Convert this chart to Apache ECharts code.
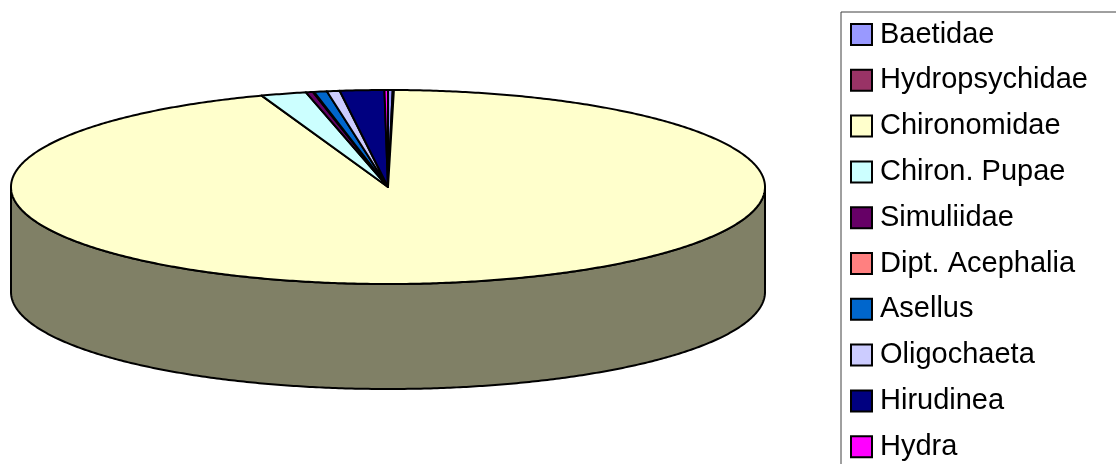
<!DOCTYPE html>
<html>
<head>
<meta charset="utf-8">
<script src="https://cdn.jsdelivr.net/npm/echarts@6/dist/echarts.min.js"></script>
<style>
  html, body { margin: 0; padding: 0; background: #fff; }
  #chart { width: 1116px; height: 464px; }
</style>
</head>
<body>
<div id="chart"></div>
<script>
// Taxa, in drawing order (clockwise from 12 o'clock)
const taxa = ['Baetidae', 'Hydropsychidae', 'Chironomidae', 'Chiron. Pupae', 'Simuliidae',
              'Dipt. Acephalia', 'Asellus', 'Oligochaeta', 'Hirudinea', 'Hydra'];
// Individuals counted per taxon
const counts = [4, 1, 1890, 39, 6, 1, 11, 11, 38, 3];
// Fill colour of each slice
const colors = ['#9999FF', '#993366', '#FFFFCC', '#CCFFFF', '#660066',
                '#FF8080', '#0066CC', '#CCCCFF', '#000080', '#FF00FF'];

// Tilted pie layout (pixels)
const PIE = { cx: 388, cy: 187, rx: 377, ry: 97, depth: 105 };

const total = counts.reduce((a, b) => a + b, 0);
const startAngles = [];
counts.reduce((acc, v, i) => { startAngles[i] = acc; return acc + v; }, 0);

function shade(hex, k) {
  const n = parseInt(hex.slice(1), 16);
  const r = Math.round(((n >> 16) & 255) * k);
  const g = Math.round(((n >> 8) & 255) * k);
  const b = Math.round((n & 255) * k);
  return 'rgb(' + r + ',' + g + ',' + b + ')';
}

// angle in degrees, clockwise from the top
function pt(deg, dy) {
  const t = deg * Math.PI / 180;
  return [PIE.cx + PIE.rx * Math.sin(t), PIE.cy - PIE.ry * Math.cos(t) + (dy || 0)];
}

function arc(a0, a1, dy) {
  const pts = [];
  const steps = Math.max(2, Math.ceil(Math.abs(a1 - a0) / 0.5));
  for (let s = 0; s <= steps; s++) pts.push(pt(a0 + (a1 - a0) * s / steps, dy));
  return pts;
}

function makeRender(idx) {
  return function (params, api) {
    const v = api.value(0);
    const a0 = startAngles[idx] / total * 360;
    const a1 = a0 + v / total * 360;
    const children = [];
    // visible rim: the front half, 90..270 degrees
    const s = Math.max(a0, 90), e = Math.min(a1, 270);
    if (e > s) {
      const top = arc(s, e, 0);
      const bottom = arc(e, s, PIE.depth);
      children.push({
        type: 'polygon',
        z2: 1,
        shape: { points: top.concat(bottom) },
        style: { fill: shade(colors[idx], 0.5), stroke: '#000', lineWidth: 2, lineJoin: 'round' }
      });
    }
    children.push({
      type: 'polygon',
      z2: 10,
      shape: { points: [pt(a0, 0)].concat(arc(a0, a1, 0)).concat([[PIE.cx, PIE.cy]]) },
      style: { fill: colors[idx], stroke: '#000', lineWidth: 2, lineJoin: 'round' }
    });
    return { type: 'group', children: children };
  };
}

const chart = echarts.init(document.getElementById('chart'), null, { renderer: 'canvas' });

chart.setOption({
  animation: false,
  backgroundColor: '#fff',
  legend: {
    orient: 'vertical',
    left: 841,
    top: 12,
    height: 520,
    padding: [8, 60, 40, 9],
    borderColor: '#404040',
    borderWidth: 1,
    itemWidth: 21,
    itemHeight: 21,
    itemGap: 16.8,
    icon: 'rect',
    itemStyle: { borderColor: '#000', borderWidth: 2 },
    textStyle: { fontFamily: 'Liberation Sans, Arial, sans-serif', fontSize: 29, color: '#000', padding: [0, 0, 0, 3] },
    data: taxa
  },
  series: taxa.map((name, i) => ({
    type: 'custom',
    name: name,
    coordinateSystem: 'none',
    itemStyle: { color: colors[i], borderColor: '#000', borderWidth: 1 },
    renderItem: makeRender(i),
    data: [[counts[i]]]
  }))
});
</script>
</body>
</html>
